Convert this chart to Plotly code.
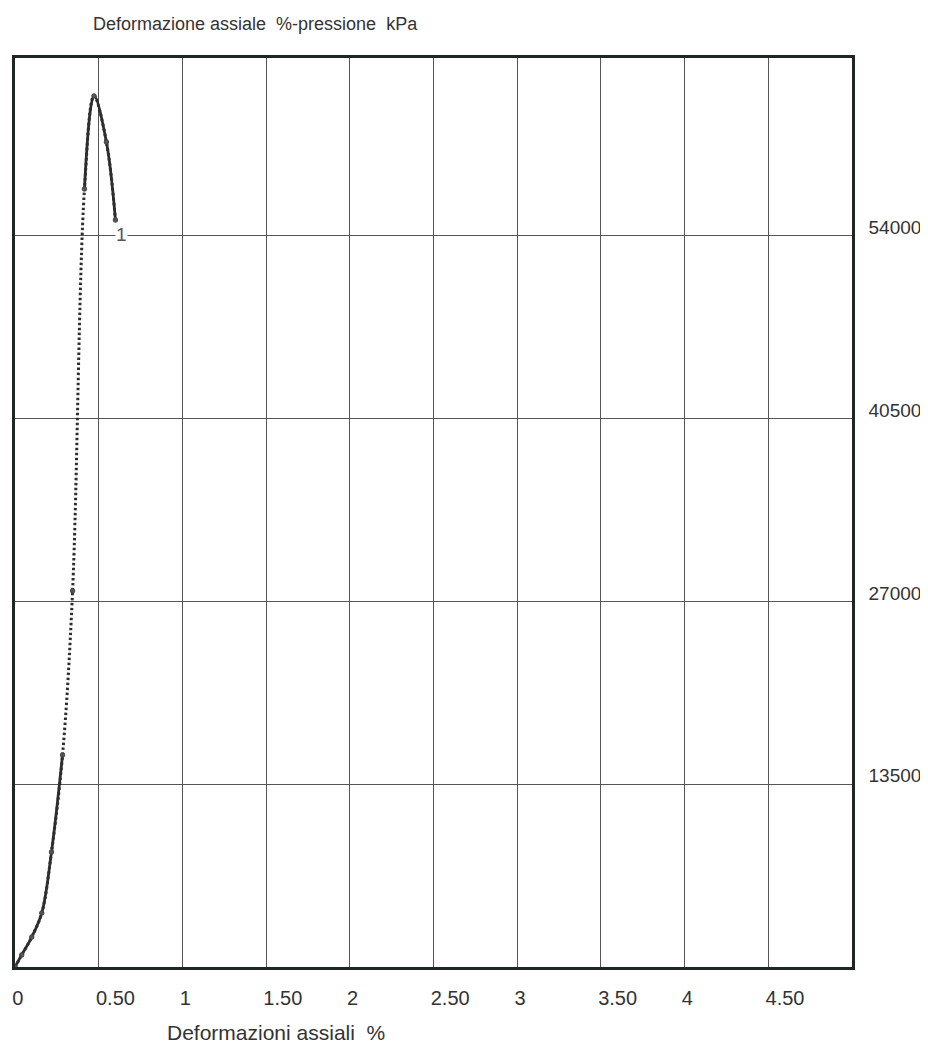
import plotly.graph_objects as go

# Data (axial strain %, pressure kPa)
strain = [0.0, 0.040, 0.100, 0.160, 0.218, 0.284, 0.344, 0.415, 0.472, 0.546, 0.600]
pressure = [0, 890, 2210, 3990, 8490, 15650, 27760, 57430, 64300, 60900, 55140]

x_ticks = [0, 0.5, 1, 1.5, 2, 2.5, 3, 3.5, 4, 4.5]
x_ticklabels = ["0", "0.50", "1", "1.50", "2", "2.50", "3", "3.50", "4", "4.50"]
y_ticks = [13500, 27000, 40500, 54000]
y_ticklabels = ["13500", "27000", "40500", "54000"]

curve_label = "1"
title_text = "Deformazione assiale\u00a0\u00a0%-pressione\u00a0\u00a0kPa"
x_title = "Deformazioni assiali\u00a0\u00a0%"

LINE = "#2e2e2e"
FONT = "Liberation Sans, Arial, sans-serif"

# page body adds an 8px margin; figure sized to fit the 928x1050 window
W, H = 920, 1042
L, T = 4, 50
PW, PH = 840, 909

fig = go.Figure()

# full curve, dotted
fig.add_trace(go.Scatter(x=strain, y=pressure, mode="lines",
                         line=dict(color=LINE, width=3, dash="2.5px,2.5px", shape="spline"),
                         hoverinfo="skip", showlegend=False))
# solid lower part
fig.add_trace(go.Scatter(x=strain[:6], y=pressure[:6], mode="lines",
                         line=dict(color=LINE, width=2.8, shape="spline"),
                         hoverinfo="skip", showlegend=False))
# solid upper part
fig.add_trace(go.Scatter(x=strain[7:], y=pressure[7:], mode="lines",
                         line=dict(color=LINE, width=2.8, shape="spline"),
                         hoverinfo="skip", showlegend=False))
# point markers
fig.add_trace(go.Scatter(x=strain, y=pressure, mode="markers",
                         marker=dict(color="#555", size=4.5, line=dict(color="#444", width=1)),
                         showlegend=False))

fig.add_annotation(x=strain[-1], y=pressure[-1], text=curve_label, showarrow=False,
                   xshift=6, yshift=-14, bgcolor="white", borderpad=0,
                   font=dict(family=FONT, size=19, color="#555"))

fig.add_annotation(xref="paper", yref="paper", x=(163 - 12) / PW, y=-(1032 - 967) / PH,
                   xanchor="left", yanchor="middle", text=x_title, showarrow=False,
                   font=dict(family=FONT, size=21, color="#333"))

fig.update_layout(
    width=W, height=H, autosize=False,
    margin=dict(l=L, r=W - L - PW, t=T, b=H - T - PH),
    paper_bgcolor="white", plot_bgcolor="white",
    title=dict(text=title_text, x=85 / W, xanchor="left", xref="container",
               y=1 - 16 / H, yanchor="middle", yref="container",
               font=dict(family=FONT, size=18, color="#333")),
    font=dict(family=FONT, size=19, color="#333"),
)
fig.update_xaxes(range=[0, 5], tickvals=x_ticks, ticktext=x_ticklabels,
                 ticklabelposition="outside right", ticks="", ticklabelstandoff=11,
                 ticklabelshift=-4,
                 showgrid=True, gridcolor="#555", gridwidth=1, zeroline=False,
                 showline=True, mirror=True, linecolor="#1f2624", linewidth=2.5,
                 tickfont=dict(family=FONT, size=20, color="#333"))
fig.update_yaxes(range=[0, 67100], side="right", tickvals=y_ticks, ticktext=y_ticklabels,
                 ticklabelposition="outside top", ticks="", ticklabelstandoff=10,
                 ticklabelshift=5,
                 showgrid=True, gridcolor="#555", gridwidth=1, zeroline=False,
                 showline=True, mirror=True, linecolor="#1f2624", linewidth=2.5,
                 tickfont=dict(family=FONT, size=19, color="#333"))

fig.write_html("out.html")
